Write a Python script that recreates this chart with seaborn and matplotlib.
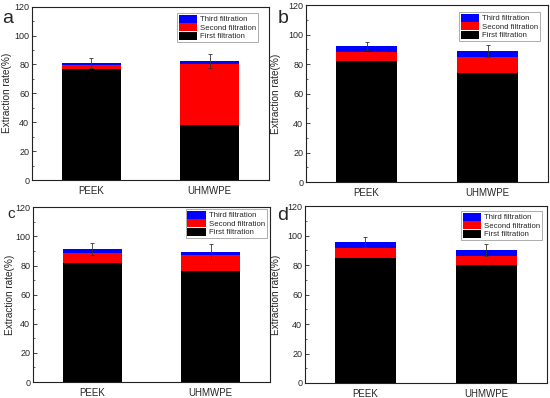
import matplotlib
matplotlib.use("Agg")
import matplotlib.pyplot as plt
from matplotlib.patches import Patch
from matplotlib.ticker import MultipleLocator
import seaborn as sns
import pandas as pd
import numpy as np

sns.set_theme(style="white")
plt.rcParams['font.family'] = ['Liberation Sans', 'DejaVu Sans']

materials = ["PEEK", "UHMWPE"]
panel_labels = ["a", "b", "c", "d"]
first_a = [77.0, 38.0]
second_a = [2.5, 42.0]
third_a = [1.5, 2.2]
err_a = [3.4, 4.8]
first_b = [82.0, 73.8]
second_b = [6.0, 11.2]
third_b = [4.1, 3.9]
err_b = [2.8, 4.1]
first_c = [82.0, 76.0]
second_c = [6.4, 11.2]
third_c = [3.0, 2.3]
err_c = [3.9, 5.0]
first_d = [84.7, 80.2]
second_d = [6.8, 6.3]
third_d = [4.5, 3.9]
err_d = [3.4, 4.0]
series_names = ["Third filtration", "Second filtration", "First filtration"]
yticks = [0, 20, 40, 60, 80, 100, 120]

panels = [
    (first_a, second_a, third_a, err_a),
    (first_b, second_b, third_b, err_b),
    (first_c, second_c, third_c, err_c),
    (first_d, second_d, third_d, err_d),
]
positions = [
    [0.0582, 0.5477, 0.4309, 0.4355],
    [0.5564, 0.5427, 0.4400, 0.4447],
    [0.0600, 0.0402, 0.4309, 0.4389],
    [0.5545, 0.0377, 0.4400, 0.4440],
]
letter_pos = [(0.004, 0.942), (0.504, 0.942), (0.013, 0.452), (0.504, 0.448)]
letter_size = [14, 14, 11, 14]
ylabel_x = [-0.084, -0.104, -0.076, -0.100]
legend_anchor = [(0.954, 0.963), (0.967, 0.96), (0.987, 0.99), (0.98, 0.973)]
colors = {"third": "#0000ff", "second": "#ff0000", "first": "#000000"}

fig = plt.figure(figsize=(5.5, 3.98), dpi=100)
for i, (first, second, third, err) in enumerate(panels):
    ax = fig.add_axes(positions[i])
    f = np.array(first)
    s = np.array(second)
    t = np.array(third)
    df = pd.DataFrame({
        "material": materials,
        "total": f + s + t,
        "fs": f + s,
        "f": f,
    })
    sns.barplot(data=df, x="material", y="total", color=colors["third"], width=0.5,
                saturation=1, ax=ax, errorbar=None, edgecolor="none")
    sns.barplot(data=df, x="material", y="fs", color=colors["second"], width=0.5,
                saturation=1, ax=ax, errorbar=None, edgecolor="none")
    sns.barplot(data=df, x="material", y="f", color=colors["first"], width=0.5,
                saturation=1, ax=ax, errorbar=None, edgecolor="none")
    ax.errorbar(np.arange(len(materials)), df["total"], yerr=err, fmt="none",
                ecolor="#333333", elinewidth=0.6, capsize=1.5, capthick=0.6)
    ax.set_xlim(-0.5, 1.5)
    ax.set_ylim(0, 120)
    ax.set_yticks(yticks)
    ax.yaxis.set_minor_locator(MultipleLocator(10))
    ax.tick_params(axis="y", which="major", direction="in", length=3, width=0.6,
                   labelsize=6.5, pad=2, left=True)
    ax.tick_params(axis="y", which="minor", direction="in", length=1.5, width=0.5, left=True)
    ax.tick_params(axis="x", length=0, labelsize=7, pad=4)
    ax.set_xlabel("")
    ax.set_ylabel("Extraction rate(%)", fontsize=7.2)
    ax.yaxis.set_label_coords(ylabel_x[i], 0.5)
    for sp in ax.spines.values():
        sp.set_color("#222222")
        sp.set_linewidth(0.8)
    handles = [Patch(facecolor=colors["third"], edgecolor="none"),
               Patch(facecolor=colors["second"], edgecolor="none"),
               Patch(facecolor=colors["first"], edgecolor="none")]
    leg = ax.legend(handles, series_names, loc="upper right",
                    bbox_to_anchor=legend_anchor[i], fontsize=5.6,
                    frameon=True, fancybox=False, edgecolor="#888888",
                    handlelength=2.4, handleheight=1.2, labelspacing=0.0,
                    borderpad=0.2, handletextpad=0.4, borderaxespad=0.0)
    leg.get_frame().set_linewidth(0.6)
    fig.text(letter_pos[i][0], letter_pos[i][1], panel_labels[i],
             fontsize=letter_size[i], va="baseline", ha="left")

fig.savefig("out.png", dpi=100)
